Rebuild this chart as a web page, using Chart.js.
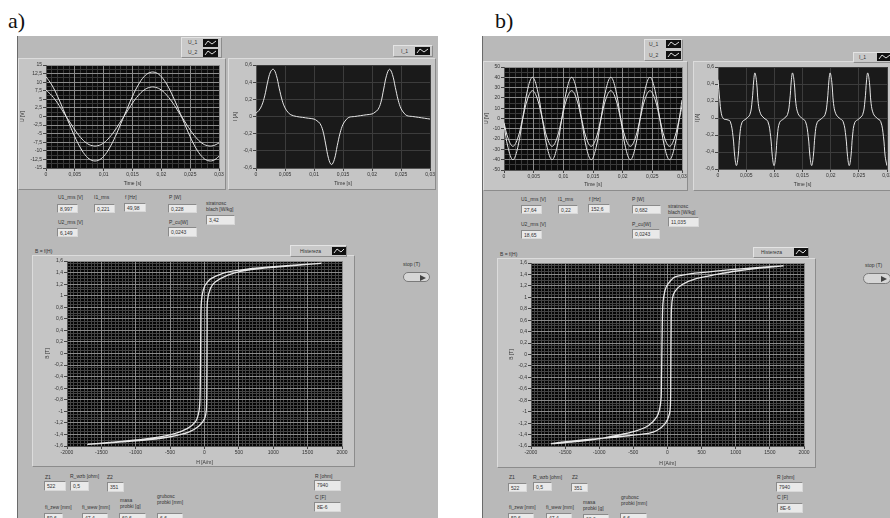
<!DOCTYPE html>
<html lang="pl">
<head>
<meta charset="utf-8">
<title>Histereza</title>
<script src="https://cdn.jsdelivr.net/npm/chart.js@4.4.0/dist/chart.umd.min.js"></script>
<style>
  body { margin:0; width:890px; height:518px; overflow:hidden; position:relative; background:#fff; font-family:"Liberation Sans", Arial, sans-serif; color:#333; }
  .a { position:absolute; }
  .panel { background:#b9b9b9; border-left:1px solid #6a6a6a; box-sizing:border-box; }
  .ramka { background:#c5c5c5; border:1px solid; border-color:#dcdcdc #8c8c8c #8c8c8c #dcdcdc; box-sizing:border-box; }
  .t { font-size:5px; line-height:6px; white-space:nowrap; color:#333; }
  .pole { background:#e9e9e9; border:1px solid; border-color:#8a8a8a #d8d8d8 #d8d8d8 #8a8a8a; box-sizing:border-box; font-size:5px; line-height:8px; padding-left:2px; color:#333; white-space:nowrap; overflow:hidden; }
  .leg { background:#c9c9c9; border:1px solid; border-color:#e4e4e4 #8c8c8c #8c8c8c #e4e4e4; box-sizing:border-box; }
  .lit { font:22px "Liberation Serif", "Times New Roman", serif; color:#111; }
  .stop { background:#d6d6d6; border:1px solid #7a7a7a; border-radius:6px; box-sizing:border-box; }
  .stop div { position:absolute; right:3px; top:2px; width:0; height:0; border-left:6px solid #444; border-top:3px solid transparent; border-bottom:3px solid transparent; }
  canvas { position:absolute; }
</style>
</head>
<body>

<!-- a) -->
<div class="a lit" style="left:8px;top:8px">a)</div>
<div class="a panel" style="left:17px;top:36px;width:421px;height:482px"></div>
<div class="a ramka" style="left:18px;top:58px;width:208px;height:132px"></div>
<div class="a ramka" style="left:228px;top:58px;width:208px;height:132px"></div>
<div class="a leg" style="left:181px;top:37px;width:41px;height:21px"></div>
<div class="a t" style="left:188px;top:39px">U_1</div>
<svg class="a" style="left:203px;top:39px" width="15" height="8"><rect width="15" height="8" fill="#111"/><polyline points="2,6 5,2 9,5 13,2" fill="none" stroke="#ddd" stroke-width="1"/></svg>
<div class="a t" style="left:188px;top:49px">U_2</div>
<svg class="a" style="left:203px;top:49px" width="15" height="8"><rect width="15" height="8" fill="#111"/><polyline points="2,6 5,2 9,5 13,2" fill="none" stroke="#ddd" stroke-width="1"/></svg>
<div class="a leg" style="left:393px;top:45px;width:40px;height:12px"></div>
<div class="a t" style="left:401px;top:48px">I_1</div>
<svg class="a" style="left:415px;top:47px" width="15" height="8"><rect width="15" height="8" fill="#111"/><polyline points="2,6 5,2 9,5 13,2" fill="none" stroke="#ddd" stroke-width="1"/></svg>
<canvas id="uA" width="208" height="132" style="left:18px;top:58px"></canvas>
<canvas id="iA" width="208" height="132" style="left:228px;top:58px"></canvas>

<div class="a t" style="left:58px;top:194px">U1_rms [V]</div>
<div class="a pole" style="left:57px;top:204px;width:21px;height:9px">8,997</div>
<div class="a t" style="left:94px;top:194px">I1_rms</div>
<div class="a pole" style="left:94px;top:204px;width:21px;height:9px">0,221</div>
<div class="a t" style="left:125px;top:194px">f [Hz]</div>
<div class="a pole" style="left:124px;top:203px;width:22px;height:9px">49,98</div>
<div class="a t" style="left:169px;top:194px">P [W]</div>
<div class="a pole" style="left:168px;top:204px;width:29px;height:9px">0,228</div>
<div class="a t" style="left:206px;top:200px">stratnosc<br>blach [W/kg]</div>
<div class="a pole" style="left:206px;top:215px;width:29px;height:10px">3,42</div>
<div class="a t" style="left:58px;top:219px">U2_rms [V]</div>
<div class="a pole" style="left:57px;top:228px;width:21px;height:9px">6,149</div>
<div class="a t" style="left:169px;top:219px">P_cu[W]</div>
<div class="a pole" style="left:168px;top:227px;width:29px;height:10px">0,0243</div>

<div class="a t" style="left:35px;top:248px">B = f(H)</div>
<div class="a ramka" style="left:32px;top:255px;width:323px;height:212px"></div>
<div class="a leg" style="left:290px;top:245px;width:57px;height:12px"></div>
<div class="a t" style="left:300px;top:248px">Histereza</div>
<svg class="a" style="left:332px;top:247px" width="14" height="8"><rect width="14" height="8" fill="#111"/><polyline points="2,6 5,2 9,5 12,2" fill="none" stroke="#ddd" stroke-width="1"/></svg>
<canvas id="hA" width="323" height="212" style="left:32px;top:255px"></canvas>
<div class="a t" style="left:403px;top:261px">stop (T)</div>
<div class="a stop" style="left:403px;top:272px;width:27px;height:10px"><div></div></div>

<div class="a t" style="left:45px;top:474px">Z1</div>
<div class="a pole" style="left:44px;top:481px;width:22px;height:10px">522</div>
<div class="a t" style="left:70px;top:473px">R_wzb [ohm]</div>
<div class="a pole" style="left:70px;top:481px;width:19px;height:10px">0,5</div>
<div class="a t" style="left:107px;top:474px">Z2</div>
<div class="a pole" style="left:107px;top:482px;width:17px;height:10px">351</div>
<div class="a t" style="left:315px;top:473px">R [ohm]</div>
<div class="a pole" style="left:314px;top:480px;width:27px;height:11px">7940</div>
<div class="a t" style="left:315px;top:494px">C [F]</div>
<div class="a pole" style="left:314px;top:502px;width:27px;height:10px">8E-6</div>
<div class="a t" style="left:45px;top:504px">fi_zew [mm]</div>
<div class="a pole" style="left:44px;top:513px;width:19px;height:10px">59,6</div>
<div class="a t" style="left:82px;top:504px">fi_wew [mm]</div>
<div class="a pole" style="left:82px;top:513px;width:26px;height:10px">47,4</div>
<div class="a t" style="left:120px;top:497px">masa<br>probki [g]</div>
<div class="a pole" style="left:119px;top:513px;width:27px;height:10px">60,6</div>
<div class="a t" style="left:157px;top:493px">grubosc<br>probki [mm]</div>
<div class="a pole" style="left:157px;top:513px;width:26px;height:10px">6,6</div>

<!-- b) -->
<div class="a lit" style="left:495px;top:8px">b)</div>
<div class="a panel" style="left:482px;top:36px;width:408px;height:482px"></div>
<div class="a ramka" style="left:483px;top:61px;width:205px;height:130px"></div>
<div class="a ramka" style="left:693px;top:61px;width:200px;height:130px"></div>
<div class="a leg" style="left:644px;top:39px;width:39px;height:22px"></div>
<div class="a t" style="left:649px;top:41px">U_1</div>
<svg class="a" style="left:666px;top:40px" width="15" height="8"><rect width="15" height="8" fill="#111"/><polyline points="2,6 5,2 9,5 13,2" fill="none" stroke="#ddd" stroke-width="1"/></svg>
<div class="a t" style="left:649px;top:52px">U_2</div>
<svg class="a" style="left:666px;top:51px" width="15" height="8"><rect width="15" height="8" fill="#111"/><polyline points="2,6 5,2 9,5 13,2" fill="none" stroke="#ddd" stroke-width="1"/></svg>
<div class="a leg" style="left:853px;top:52px;width:40px;height:11px"></div>
<div class="a t" style="left:859px;top:54px">I_1</div>
<svg class="a" style="left:877px;top:53px" width="15" height="8"><rect width="15" height="8" fill="#111"/><polyline points="2,6 5,2 9,5 13,2" fill="none" stroke="#ddd" stroke-width="1"/></svg>
<canvas id="uB" width="206" height="130" style="left:482px;top:61px"></canvas>
<canvas id="iB" width="200" height="130" style="left:693px;top:61px"></canvas>

<div class="a t" style="left:521px;top:196px">U1_rms [V]</div>
<div class="a pole" style="left:521px;top:205px;width:21px;height:9px">27,64</div>
<div class="a t" style="left:558px;top:196px">I1_rms</div>
<div class="a pole" style="left:558px;top:205px;width:20px;height:9px">0,22</div>
<div class="a t" style="left:589px;top:196px">f [Hz]</div>
<div class="a pole" style="left:588px;top:204px;width:22px;height:9px">152,6</div>
<div class="a t" style="left:632px;top:196px">P [W]</div>
<div class="a pole" style="left:632px;top:205px;width:29px;height:9px">0,682</div>
<div class="a t" style="left:668px;top:203px">stratnosc<br>blach [W/kg]</div>
<div class="a pole" style="left:668px;top:217px;width:31px;height:10px">11,035</div>
<div class="a t" style="left:521px;top:221px">U2_rms [V]</div>
<div class="a pole" style="left:521px;top:230px;width:21px;height:9px">18,65</div>
<div class="a t" style="left:632px;top:221px">P_cu[W]</div>
<div class="a pole" style="left:632px;top:229px;width:28px;height:10px">0,0243</div>

<div class="a t" style="left:500px;top:251px">B = f(H)</div>
<div class="a ramka" style="left:497px;top:258px;width:319px;height:210px"></div>
<div class="a leg" style="left:753px;top:247px;width:56px;height:11px"></div>
<div class="a t" style="left:761px;top:249px">Histereza</div>
<svg class="a" style="left:794px;top:248px" width="14" height="8"><rect width="14" height="8" fill="#111"/><polyline points="2,6 5,2 9,5 12,2" fill="none" stroke="#ddd" stroke-width="1"/></svg>
<canvas id="hB" width="319" height="210" style="left:497px;top:258px"></canvas>
<div class="a t" style="left:865px;top:262px">stop (T)</div>
<div class="a stop" style="left:863px;top:273px;width:28px;height:11px"><div></div></div>

<div class="a t" style="left:509px;top:474px">Z1</div>
<div class="a pole" style="left:508px;top:483px;width:19px;height:9px">522</div>
<div class="a t" style="left:533px;top:474px">R_wzb [ohm]</div>
<div class="a pole" style="left:533px;top:482px;width:19px;height:9px">0,5</div>
<div class="a t" style="left:572px;top:474px">Z2</div>
<div class="a pole" style="left:571px;top:483px;width:17px;height:9px">351</div>
<div class="a t" style="left:777px;top:474px">R [ohm]</div>
<div class="a pole" style="left:776px;top:482px;width:27px;height:10px">7940</div>
<div class="a t" style="left:777px;top:494px">C [F]</div>
<div class="a pole" style="left:777px;top:503px;width:26px;height:10px">8E-6</div>
<div class="a t" style="left:509px;top:504px">fi_zew [mm]</div>
<div class="a pole" style="left:508px;top:513px;width:26px;height:10px">59,6</div>
<div class="a t" style="left:546px;top:504px">fi_wew [mm]</div>
<div class="a pole" style="left:546px;top:513px;width:26px;height:10px">47,4</div>
<div class="a t" style="left:583px;top:499px">masa<br>probki [g]</div>
<div class="a pole" style="left:583px;top:514px;width:26px;height:10px">60,6</div>
<div class="a t" style="left:621px;top:494px">grubosc<br>probki [mm]</div>
<div class="a pole" style="left:620px;top:513px;width:27px;height:10px">6,6</div>

<script>
// a) 50 Hz
const czasUA = [0, 0.001, 0.002, 0.003, 0.004, 0.005, 0.006, 0.007, 0.008, 0.009, 0.01, 0.011, 0.012, 0.013, 0.014, 0.015, 0.016, 0.017, 0.018, 0.019, 0.02, 0.021, 0.022, 0.023, 0.024, 0.025, 0.026, 0.027, 0.028, 0.029, 0.03];
const u1A = [11.6, 9.2, 5.9, 2.0, -2.0, -5.9, -9.2, -11.6, -12.8, -12.8, -11.6, -9.2, -5.9, -2.0, 2.0, 5.9, 9.2, 11.6, 12.8, 12.8, 11.6, 9.2, 5.9, 2.0, -2.0, -5.9, -9.2, -11.6, -12.8, -12.8, -11.6];
const u2A = [7.7, 6.1, 3.9, 1.3, -1.3, -3.9, -6.1, -7.7, -8.5, -8.5, -7.7, -6.1, -3.9, -1.3, 1.3, 3.9, 6.1, 7.7, 8.5, 8.5, 7.7, 6.1, 3.9, 1.3, -1.3, -3.9, -6.1, -7.7, -8.5, -8.5, -7.7];

const czasIA = [0, 0.0005, 0.001, 0.0015, 0.002, 0.0025, 0.003, 0.0035, 0.004, 0.0045, 0.005, 0.0055, 0.006, 0.007, 0.008, 0.009, 0.01, 0.0105, 0.011, 0.0115, 0.012, 0.0125, 0.013, 0.0135, 0.014, 0.0145, 0.015, 0.0155, 0.016, 0.017, 0.018, 0.019, 0.02, 0.0205, 0.021, 0.0215, 0.022, 0.0225, 0.023, 0.0235, 0.024, 0.0245, 0.025, 0.0255, 0.026, 0.027, 0.028, 0.029, 0.03];
const i1A = [0.04, 0.07, 0.13, 0.24, 0.4, 0.52, 0.55, 0.48, 0.33, 0.19, 0.1, 0.05, 0.02, 0.0, -0.01, -0.02, -0.03, -0.05, -0.08, -0.16, -0.32, -0.49, -0.56, -0.5, -0.34, -0.19, -0.09, -0.04, -0.01, 0.0, 0.01, 0.02, 0.03, 0.05, 0.08, 0.16, 0.32, 0.48, 0.55, 0.49, 0.34, 0.19, 0.09, 0.04, 0.01, 0.0, -0.01, -0.02, -0.03];

const hA = [1700, 1100, 620, 300, 100, 45, 0, -34, -50, -55, -57, -60, -66, -82, -131, -252, -447, -800, -1200, -1700, -1200, -800, -500, -230, -85, 0, 28, 34, 36, 38, 42, 87, 160, 330, 524, 900, 1300, 1700];
const bA = [1.56, 1.51, 1.46, 1.40, 1.30, 1.24, 1.16, 1.01, 0.8, 0.3, 0, -0.4, -0.8, -1.01, -1.18, -1.3, -1.39, -1.47, -1.52, -1.57, -1.53, -1.49, -1.44, -1.36, -1.26, -1.13, -0.95, -0.5, 0, 0.5, 0.9, 1.13, 1.24, 1.35, 1.42, 1.48, 1.52, 1.56];

// b) 152,6 Hz
const czasUB = [0, 0.000675, 0.0015, 0.002325, 0.00315, 0.003975, 0.0048, 0.005625, 0.00645, 0.007275, 0.0081, 0.008925, 0.00975, 0.010575, 0.0114, 0.012225, 0.01305, 0.013875, 0.0147, 0.015525, 0.01635, 0.017175, 0.018, 0.018825, 0.01965, 0.020475, 0.0213, 0.022125, 0.02295, 0.023775, 0.0246, 0.025425, 0.02625, 0.027075, 0.0279, 0.028725, 0.02955, 0.03];
const u1B = [-6, -28, -40, -28, 0, 28, 40, 28, 0, -28, -40, -28, 0, 28, 40, 28, 0, -28, -40, -28, 0, 28, 40, 28, 0, -28, -40, -28, 0, 28, 40, 28, 0, -28, -40, -28, 0, 18];
const u2B = [-4, -19, -27, -19, 0, 19, 27, 19, 0, -19, -27, -19, 0, 19, 27, 19, 0, -19, -27, -19, 0, 19, 27, 19, 0, -19, -27, -19, 0, 19, 27, 19, 0, -19, -27, -19, 0, 12];

const czasIB = [0, 0.0003, 0.0006, 0.001, 0.0016,
  0.00217, 0.00267, 0.00297, 0.00327, 0.00357, 0.00387, 0.00427, 0.00497, 0.00565, 0.00605, 0.00635, 0.00655, 0.00685, 0.00715, 0.00755, 0.00815,
  0.00884, 0.00934, 0.00964, 0.00994, 0.01024, 0.01054, 0.01094, 0.01164, 0.01232, 0.01272, 0.01302, 0.01322, 0.01352, 0.01382, 0.01422, 0.01482,
  0.01551, 0.01601, 0.01631, 0.01661, 0.01691, 0.01721, 0.01761, 0.01831, 0.01899, 0.01939, 0.01969, 0.01989, 0.02019, 0.02049, 0.02089, 0.02149,
  0.02218, 0.02268, 0.02298, 0.02328, 0.02358, 0.02388, 0.02428, 0.02498, 0.02566, 0.02606, 0.02636, 0.02656, 0.02686, 0.02716, 0.02756, 0.02816,
  0.02885, 0.02935, 0.02965, 0.02995];
const i1B = [0.45, 0.22, 0.05, -0.01, -0.02,
  -0.04, -0.22, -0.45, -0.56, -0.45, -0.2, -0.05, -0.01, 0.04, 0.2, 0.45, 0.53, 0.42, 0.17, 0.05, 0.0,
  -0.04, -0.22, -0.45, -0.56, -0.45, -0.2, -0.05, -0.01, 0.04, 0.2, 0.45, 0.53, 0.42, 0.17, 0.05, 0.0,
  -0.04, -0.22, -0.45, -0.56, -0.45, -0.2, -0.05, -0.01, 0.04, 0.2, 0.45, 0.53, 0.42, 0.17, 0.05, 0.0,
  -0.04, -0.22, -0.45, -0.56, -0.45, -0.2, -0.05, -0.01, 0.04, 0.2, 0.45, 0.53, 0.42, 0.17, 0.05, 0.0,
  -0.04, -0.22, -0.45, -0.56];

const hB = [1700, 1200, 820, 330, 150, 88, 0, -39, -68, -78, -83, -88, -93, -115, -156, -278, -449, -644, -985, -1300, -1700, -1200, -800, -498, -280, -156, -34, 29, 44, 48, 50, 53, 58, 75, 112, 210, 430, 722, 1015, 1350, 1700];
const bB = [1.55, 1.51, 1.47, 1.41, 1.37, 1.34, 1.22, 1.11, 0.88, 0.4, 0, -0.4, -0.75, -0.95, -1.09, -1.24, -1.33, -1.39, -1.47, -1.52, -1.56, -1.49, -1.45, -1.41, -1.38, -1.33, -1.21, -1.04, -0.85, -0.4, 0, 0.4, 0.8, 1.0, 1.11, 1.22, 1.33, 1.40, 1.46, 1.51, 1.55];

const zakresCzasu = [0, 0.03, 0.005];
const zakresU_A = [-15, 15, 2.5];
const zakresU_B = [-50, 50, 10];
const zakresI = [-0.6, 0.6, 0.2];
const zakresH = [-2000, 2000, 500];
const zakresB = [-1.6, 1.6, 0.2];

const czcionka = "'Liberation Sans', Arial, sans-serif";

const tlo = {
  id: "tlo",
  beforeDraw: (chart, args, opts) => {
    const { ctx, chartArea } = chart;
    ctx.save();
    ctx.fillStyle = opts.kolor;
    ctx.fillRect(chartArea.left, chartArea.top, chartArea.width, chartArea.height);
    ctx.restore();
  },
};

const zPrzecinkiem = (v) => String(parseFloat(Number(v).toFixed(4))).replace(".", ",");
const punkty = (xs, ys) => xs.map((x, i) => ({ x: x, y: ys[i] }));

const linia = (xs, ys, grubosc, napiecie) => ({
  data: punkty(xs, ys),
  showLine: true,
  borderColor: "#e6e6e6",
  borderWidth: grubosc,
  pointRadius: 0,
  tension: napiecie,
  fill: false,
  xAxisID: "x",
  yAxisID: "y",
});

const skalaGlowna = (poz, zakres, rozmiar, tytul, padTytulu, kolorSiatki) => ({
  type: "linear",
  position: poz,
  min: zakres[0],
  max: zakres[1],
  afterFit: (s) => {
    if (poz === "left") s.width = rozmiar;
    else s.height = rozmiar;
  },
  ticks: {
    stepSize: zakres[2],
    autoSkip: false,
    maxRotation: 0,
    padding: 1,
    color: "#333",
    font: { size: 5, family: czcionka },
    callback: zPrzecinkiem,
  },
  grid: { color: kolorSiatki, tickColor: "#444", tickLength: 3, z: -1 },
  border: { color: "#555" },
  title: {
    display: true,
    text: tytul,
    color: "#333",
    font: { size: 5, family: czcionka },
    padding: poz === "left" ? { top: padTytulu, bottom: 0 } : { top: 0, bottom: padTytulu },
  },
});

const skalaDrobna = (poz, zakres, krok, kolor) => ({
  type: "linear",
  position: poz,
  min: zakres[0],
  max: zakres[1],
  afterFit: (s) => {
    if (poz === "left") s.width = 0;
    else s.height = 0;
  },
  ticks: { display: false, stepSize: krok },
  grid: { color: kolor, drawTicks: false, z: -2 },
  border: { display: false },
});

const rysuj = (id, o) => {
  const scales = {
    x: skalaGlowna("bottom", o.zx, o.wysX, o.tytX, o.padX, o.siatka),
    y: skalaGlowna("left", o.zy, o.szerY, o.tytY, o.padY, o.siatka),
  };
  if (o.drobneX) scales.xm = skalaDrobna("bottom", o.zx, o.drobneX, o.drobna);
  if (o.drobneY) scales.ym = skalaDrobna("left", o.zy, o.drobneY, o.drobna);
  return new Chart(document.getElementById(id).getContext("2d"), {
    type: "scatter",
    data: { datasets: o.serie },
    options: {
      responsive: false,
      animation: false,
      events: [],
      layout: { padding: { top: o.padGora, right: o.padPrawo, left: 0, bottom: 0 } },
      scales: scales,
      plugins: {
        legend: { display: false },
        tooltip: { enabled: false },
        tlo: { kolor: o.tlo },
      },
    },
    plugins: [tlo],
  });
};

rysuj("uA", {
  serie: [linia(czasUA, u1A, 1, 0.4), linia(czasUA, u2A, 1, 0.4)],
  zx: zakresCzasu, zy: zakresU_A, wysX: 22, szerY: 28,
  tytX: "Time [s]", tytY: "U [V]", padX: 3, padY: 2,
  drobneX: 0.001, drobneY: 1.25,
  siatka: "#8c8c8c", drobna: "#3a3a3a", tlo: "#0c0c0c",
  padGora: 7, padPrawo: 7,
});

rysuj("iA", {
  serie: [linia(czasIA, i1A, 1, 0.4)],
  zx: zakresCzasu, zy: zakresI, wysX: 22, szerY: 28,
  tytX: "Time [s]", tytY: "I [A]", padX: 3, padY: 5,
  siatka: "#3c3c3c", tlo: "#1a1a1a",
  padGora: 7, padPrawo: 4,
});

rysuj("hA", {
  serie: [linia(hA, bA, 1.3, 0.3)],
  zx: zakresH, zy: zakresB, wysX: 21, szerY: 35,
  tytX: "H [A/m]", tytY: "B [T]", padX: 1, padY: 13,
  drobneX: 50, drobneY: 0.05,
  siatka: "#8a8a8a", drobna: "#454545", tlo: "#050505",
  padGora: 6, padPrawo: 13,
});

rysuj("uB", {
  serie: [linia(czasUB, u1B, 1, 0.4), linia(czasUB, u2B, 1, 0.4)],
  zx: zakresCzasu, zy: zakresU_B, wysX: 21, szerY: 22,
  tytX: "Time [s]", tytY: "U [V]", padX: 3, padY: 2,
  drobneX: 0.001, drobneY: 5,
  siatka: "#8c8c8c", drobna: "#3a3a3a", tlo: "#0c0c0c",
  padGora: 6, padPrawo: 6,
});

rysuj("iB", {
  serie: [linia(czasIB, i1B, 1, 0.4)],
  zx: zakresCzasu, zy: zakresI, wysX: 22, szerY: 25,
  tytX: "Time [s]", tytY: "I [A]", padX: 3, padY: 2,
  siatka: "#3c3c3c", tlo: "#1a1a1a",
  padGora: 6, padPrawo: 5,
});

rysuj("hB", {
  serie: [linia(hB, bB, 1.3, 0.3)],
  zx: zakresH, zy: zakresB, wysX: 22, szerY: 34,
  tytX: "H [A/m]", tytY: "B [T]", padX: 1, padY: 12,
  drobneX: 50, drobneY: 0.05,
  siatka: "#8a8a8a", drobna: "#454545", tlo: "#050505",
  padGora: 5, padPrawo: 12,
});
</script>
</body>
</html>
